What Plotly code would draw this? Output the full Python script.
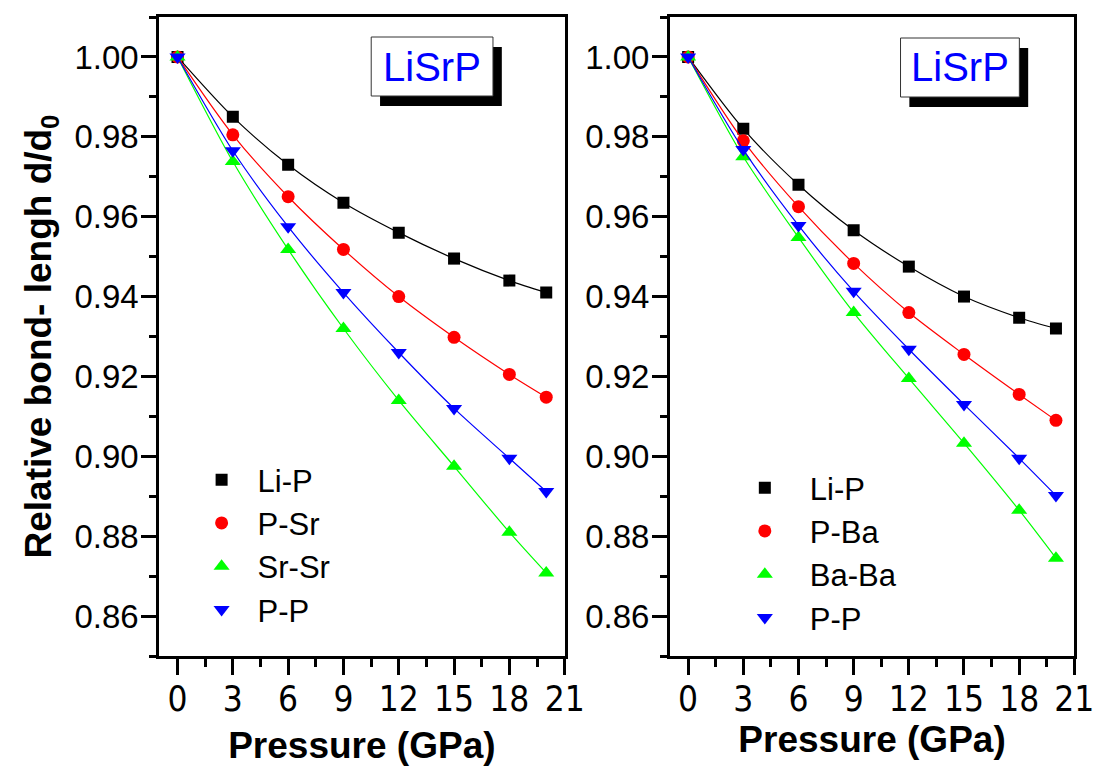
import plotly.graph_objects as go

# ---------------- data ----------------
pressure = [0, 3, 6, 9, 12, 15, 18, 20]

left_names = ["Li-P", "P-Sr", "Sr-Sr", "P-P"]
left_LiP = [1.000, 0.985, 0.973, 0.9635, 0.956, 0.9495, 0.944, 0.941]
left_PSr = [1.000, 0.9805, 0.965, 0.9518, 0.940, 0.9298, 0.9205, 0.9148]
left_SrSr = [1.000, 0.9738, 0.9518, 0.932, 0.914, 0.8975, 0.881, 0.8708]
left_PP = [1.000, 0.9765, 0.9575, 0.941, 0.926, 0.912, 0.8995, 0.8912]

right_names = ["Li-P", "P-Ba", "Ba-Ba", "P-P"]
right_LiP = [1.000, 0.982, 0.968, 0.9566, 0.9475, 0.940, 0.9347, 0.932]
right_PBa = [1.000, 0.979, 0.9625, 0.9483, 0.936, 0.9255, 0.9155, 0.909]
right_BaBa = [1.000, 0.975, 0.9548, 0.936, 0.9195, 0.9033, 0.8865, 0.8745]
right_PP = [1.000, 0.9768, 0.9578, 0.9413, 0.9268, 0.913, 0.8995, 0.8902]

x_ticks = [0, 3, 6, 9, 12, 15, 18, 21]
y_ticks = [0.86, 0.88, 0.90, 0.92, 0.94, 0.96, 0.98, 1.00]
panel_label = "LiSrP"
x_title = "Pressure (GPa)"
y_title = "Relative bond- lengh d/d<sub>0</sub>"

colors = ["#000000", "#ff0000", "#00ff00", "#0000ff"]
symbols = ["square", "circle", "triangle-up", "triangle-down"]
sizes = [12, 13, 14, 14]

FONT = "Liberation Sans, Arial, sans-serif"
NARROW = "Liberation Sans Narrow, Arial Narrow, DejaVu Sans Condensed, sans-serif"
W, H = 1113, 767

fig = go.Figure()

left_series = [left_LiP, left_PSr, left_SrSr, left_PP]
right_series = [right_LiP, right_PBa, right_BaBa, right_PP]

def add_panel(names, series, xa, ya, leg, grp):
    for i, (name, ys) in enumerate(zip(names, series)):
        fig.add_trace(go.Scatter(
            x=pressure, y=ys, mode="lines", showlegend=False, hoverinfo="skip",
            line=dict(color=colors[i], width=1.2, shape="spline", smoothing=0.8),
            xaxis=xa, yaxis=ya,
        ))
        fig.add_trace(go.Scatter(
            x=pressure, y=ys, name=name, mode="markers",
            marker=dict(symbol=symbols[i], size=sizes[i], color=colors[i]),
            xaxis=xa, yaxis=ya, legend=leg, legendgroup="%s%d" % (grp, i),
        ))

add_panel(left_names, left_series, "x", "y", "legend", "L")
add_panel(right_names, right_series, "x2", "y2", "legend2", "R")

def px_x(v):
    return v / W

def px_y(v):
    return 1 - v / H

def xaxis_cfg(standoff):
    return dict(
        range=[-1, 21], tickvals=x_ticks, ticks="outside", ticklen=16, tickwidth=2.5,
        tickcolor="black", showline=True, linewidth=2.5, linecolor="black", mirror=True,
        showgrid=False, zeroline=False,
        minor=dict(dtick=1.5, tick0=0, ticks="outside", ticklen=8, tickwidth=2.5,
                   tickcolor="black", showgrid=False),
        tickfont=dict(family=NARROW, size=35, color="black"),
        ticklabelstandoff=-6,
        title=dict(text=x_title, font=dict(family=FONT, size=37, color="black", weight="bold"),
                   standoff=standoff),
    )

ycommon = dict(
    range=[0.85, 1.01], tickvals=y_ticks, tickformat=".2f", ticks="outside", ticklen=15,
    tickwidth=2.5, tickcolor="black", showline=True, linewidth=2.5, linecolor="black",
    mirror=True, showgrid=False, zeroline=False,
    minor=dict(dtick=0.01, tick0=0.85, ticks="outside", ticklen=7, tickwidth=2.5,
               tickcolor="black", showgrid=False),
    tickfont=dict(family=FONT, size=33, color="black"),
    ticklabelstandoff=-4,
)

legend_font = dict(family=FONT, size=31, color="black")

fig.update_layout(
    width=W, height=H, margin=dict(l=0, r=0, t=0, b=0),
    paper_bgcolor="white", plot_bgcolor="white",
    xaxis=dict(domain=[px_x(162), px_x(575)], anchor="y", **xaxis_cfg(15)),
    xaxis2=dict(domain=[px_x(682), px_x(1094)], anchor="y2", **xaxis_cfg(7)),
    yaxis=dict(domain=[px_y(656), px_y(17)], anchor="x",
               title=dict(text=y_title, font=dict(family=FONT, size=37, color="black", weight="bold"),
                          standoff=12),
               **ycommon),
    yaxis2=dict(domain=[px_y(656), px_y(17)], anchor="x2", **ycommon),
    legend=dict(x=px_x(189), y=px_y(453), xanchor="left", yanchor="top",
                bgcolor="rgba(0,0,0,0)", borderwidth=0, itemwidth=62,
                tracegroupgap=0, font=legend_font),
    legend2=dict(x=px_x(733), y=px_y(461), xanchor="left", yanchor="top",
                 bgcolor="rgba(0,0,0,0)", borderwidth=0, itemwidth=80,
                 tracegroupgap=0, font=legend_font),
    showlegend=True,
)

# label boxes with drop shadow
boxes = [(378, 37, 502, 96), (917, 38, 1038, 97)]
shapes = []
annotations = []
for (x0, y0, x1, y1) in boxes:
    shapes.append(dict(type="rect", xref="paper", yref="paper",
                       x0=px_x(x0 + 9), x1=px_x(x1 + 9), y0=px_y(y1 + 10), y1=px_y(y0 + 10),
                       fillcolor="black", line=dict(width=0), layer="above"))
    shapes.append(dict(type="rect", xref="paper", yref="paper",
                       x0=px_x(x0), x1=px_x(x1), y0=px_y(y1), y1=px_y(y0),
                       fillcolor="white", line=dict(width=1, color="#333333"), layer="above"))
    annotations.append(dict(xref="paper", yref="paper", x=px_x((x0 + x1) / 2), y=px_y((y0 + y1) / 2),
                            text=panel_label, showarrow=False, xanchor="center", yanchor="middle",
                            font=dict(family=FONT, size=40, color="#0000ff")))
fig.update_layout(shapes=shapes, annotations=annotations)

fig.write_html("out.html")
